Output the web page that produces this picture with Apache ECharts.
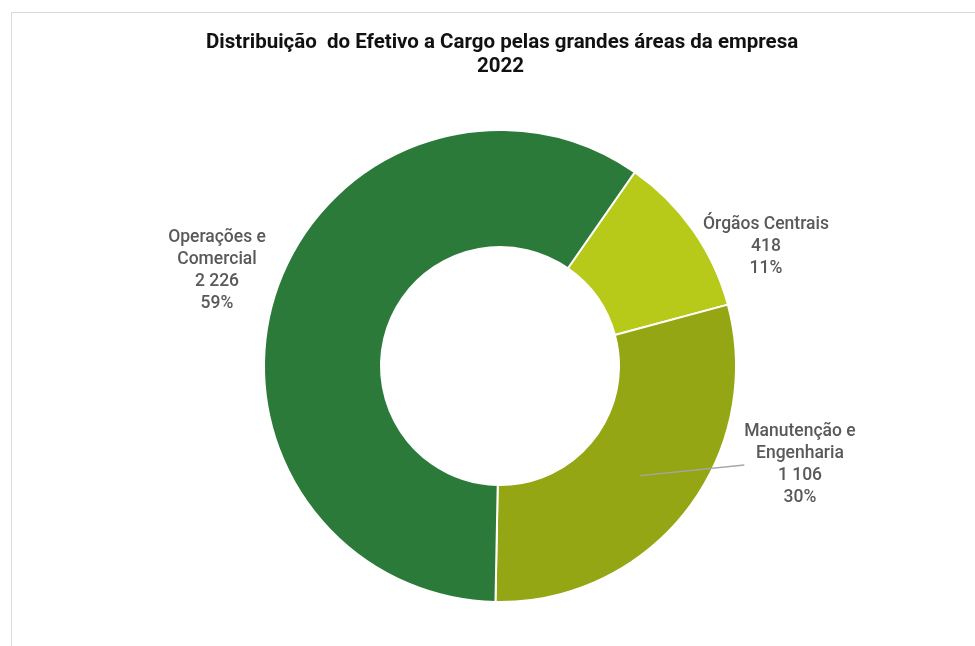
<!DOCTYPE html>
<html>
<head>
<meta charset="utf-8">
<script src="https://cdn.jsdelivr.net/npm/echarts@6/dist/echarts.min.js"></script>
<style>
html,body{margin:0;padding:0;background:#fff;}
#wrap{position:relative;width:975px;height:646px;overflow:hidden;}
#frame{position:absolute;left:11px;top:12px;width:2000px;height:2000px;border-left:1px solid #d9d9d9;border-top:1px solid #d9d9d9;box-sizing:border-box;}
#chart{position:absolute;left:0;top:0;width:975px;height:646px;}
</style>
</head>
<body>
<div id="wrap"><div id="frame"></div><div id="chart"></div></div>
<script>
const titleText = 'Distribuição  do Efetivo a Cargo pelas grandes áreas da empresa';
const subTitle = '2022';
const categories = ['Órgãos Centrais', 'Manutenção e\nEngenharia', 'Operações e\nComercial'];
const values = [418, 1106, 2226];
const colors = ['#b7ca1a', '#94a613', '#2b7a39'];

function fmt(v) { return String(v).replace(/\B(?=(\d{3})+(?!\d))/g, ' '); }
function labelFmt(p) { return p.name + '\n' + fmt(p.value) + '\n' + p.percent + '%'; }

const labelStyle = {
  fontFamily: 'Roboto', fontSize: 17.5, fontWeight: 500, color: '#595959', lineHeight: 22, align: 'center'
};
const titleStyle = { fontFamily: 'Roboto', fontSize: 20.5, fontWeight: 'bold', color: '#111' };

const mainData = categories.map((c, i) => ({
  name: c, value: values[i], itemStyle: { color: colors[i] },
  label: { show: i !== 1 }
}));
const guideData = categories.map((c, i) => ({
  name: c, value: values[i],
  label: { show: i === 1 }, labelLine: { show: i === 1 }
}));

const mainPos = { 0: [766, 247], 2: [217, 271] };
const guidePos = { 1: [800, 465] };

const chart = echarts.init(document.getElementById('chart'), null, { renderer: 'canvas' });
chart.setOption({
  animation: false,
  title: [
    { text: titleText, left: 201, top: 27, textStyle: titleStyle },
    { text: subTitle, left: 472, top: 51, textStyle: titleStyle }
  ],
  series: [
    {
      type: 'pie', center: [500, 366], radius: [119, 236], z: 2,
      startAngle: 55.2, clockwise: true, avoidLabelOverlap: false,
      percentPrecision: 0, silent: true,
      itemStyle: { borderColor: '#fff', borderWidth: 2 },
      label: Object.assign({ position: 'outside', formatter: labelFmt }, labelStyle),
      labelLine: { show: false },
      labelLayout: function (p) {
        const pos = mainPos[p.dataIndex];
        if (!pos) return {};
        return { x: pos[0], y: pos[1], align: 'center', verticalAlign: 'middle' };
      },
      emphasis: { disabled: true },
      data: mainData
    },
    {
      type: 'pie', center: [500, 366], radius: [0, 178], z: 5,
      startAngle: 55.2, clockwise: true, avoidLabelOverlap: false,
      percentPrecision: 0, silent: true,
      itemStyle: { color: 'rgba(0,0,0,0)', borderWidth: 0 },
      label: Object.assign({ position: 'outside', formatter: labelFmt }, labelStyle),
      labelLine: { length: 0, length2: 0, lineStyle: { color: '#a6a6a6', width: 1.3 } },
      labelLayout: function (p) {
        const pos = guidePos[p.dataIndex];
        if (!pos) return {};
        return { x: pos[0], y: pos[1], align: 'center', verticalAlign: 'middle' };
      },
      emphasis: { disabled: true },
      data: guideData
    }
  ]
});
</script>
</body>
</html>
